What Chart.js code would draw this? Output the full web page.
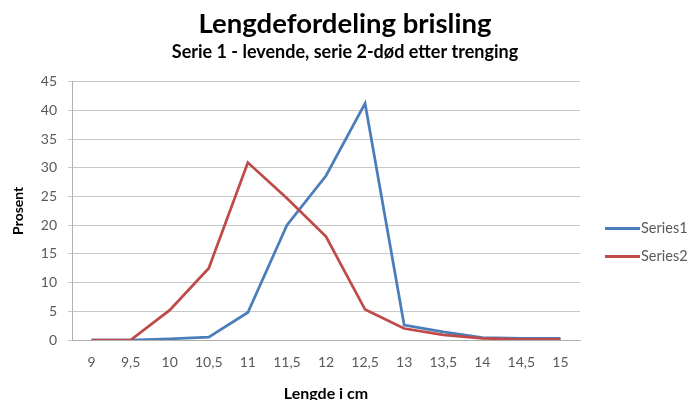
<!DOCTYPE html>
<html>
<head>
<meta charset="utf-8">
<script src="https://cdn.jsdelivr.net/npm/chart.js@4"></script>
<style>
  html, body { margin: 0; padding: 0; background: #fff; }
  #wrap { width: 690px; height: 400px; }
</style>
</head>
<body>
<div id="wrap"><canvas id="c" width="690" height="400"></canvas></div>
<script>
const categories = ['9','9,5','10','10,5','11','11,5','12','12,5','13','13,5','14','14,5','15'];
const series1 = [0, 0, 0.2, 0.5, 4.8, 20.0, 28.6, 41.2, 2.6, 1.4, 0.4, 0.3, 0.3];
const series2 = [0, 0, 5.2, 12.5, 30.9, 24.7, 18.0, 5.3, 2.0, 0.9, 0.3, 0.1, 0.1];
const seriesNames = ['Series1', 'Series2'];
const yTicks = [0, 5, 10, 15, 20, 25, 30, 35, 40, 45];

const FONT = 'Lato, "Open Sans", sans-serif';
const TEXT = '#595959';

const customLegend = {
  id: 'customLegend',
  afterDraw(chart) {
    const ctx = chart.ctx;
    const ca = chart.chartArea;
    ctx.save();
    chart.data.datasets.forEach((ds, i) => {
      const y = ca.top + 147 + i * 28;
      const x0 = ca.right + 25;
      ctx.strokeStyle = ds.borderColor;
      ctx.lineWidth = 3;
      ctx.beginPath();
      ctx.moveTo(x0, y);
      ctx.lineTo(x0 + 35, y);
      ctx.stroke();
      ctx.fillStyle = TEXT;
      ctx.font = '14.5px ' + FONT;
      ctx.textBaseline = 'middle';
      ctx.textAlign = 'left';
      ctx.fillText(ds.label, x0 + 36, y);
    });
    ctx.restore();
  }
};

new Chart(document.getElementById('c'), {
  type: 'line',
  data: {
    labels: categories,
    datasets: [
      { label: seriesNames[0], data: series1, borderColor: '#4a7ebb', backgroundColor: '#4a7ebb',
        borderWidth: 2.75, pointRadius: 0, tension: 0, order: 1 },
      { label: seriesNames[1], data: series2, borderColor: '#be4b48', backgroundColor: '#be4b48',
        borderWidth: 2.75, pointRadius: 0, tension: 0, order: 0 }
    ]
  },
  options: {
    responsive: false,
    animation: false,
    layout: { padding: { left: 0, right: 0, top: 0, bottom: 0 } },
    plugins: {
      legend: { display: false },
      tooltip: { enabled: false },
      title: {
        display: true,
        text: 'Lengdefordeling brisling',
        color: '#000',
        font: { family: FONT, size: 27.5, weight: 'bold' },
        padding: { top: 8, bottom: 0 }
      },
      subtitle: {
        display: true,
        text: 'Serie 1 - levende, serie 2-død etter trenging',
        color: '#000',
        font: { family: FONT, size: 18, weight: 'bold' },
        padding: { top: 0, bottom: 19 }
      }
    },
    scales: {
      x: {
        offset: true,
        afterFit(scale) { scale.height = 60; },
        grid: { display: false, drawTicks: false },
        border: { display: true, color: '#b0b0b0', width: 1 },
        ticks: { color: TEXT, font: { family: FONT, size: 14 }, padding: 14, maxRotation: 0, autoSkip: false },
        title: { display: true, text: 'Lengde i cm', color: '#000', font: { family: FONT, size: 16, weight: 'bold' },
                 padding: { top: 9, bottom: -3 } }
      },
      y: {
        min: 0, max: 45,
        afterBuildTicks(scale) { scale.ticks = yTicks.map(v => ({ value: v })); },
        afterFit(scale) { scale.width = 72; },
        grid: { color: '#c8c8c8', lineWidth: 1, drawTicks: true, tickLength: 4, tickColor: '#c8c8c8' },
        border: { display: true, color: '#b0b0b0', width: 1 },
        ticks: { color: TEXT, font: { family: FONT, size: 14 }, padding: 11 },
        title: { display: true, text: 'Prosent', color: '#000', font: { family: FONT, size: 14, weight: 'bold' },
                 padding: { top: 10, bottom: 0 } }
      },
      yLegendSpace: {
        type: 'linear',
        position: 'right',
        display: true,
        afterFit(scale) { scale.width = 110; },
        grid: { display: false, drawTicks: false },
        border: { display: false },
        ticks: { display: false }
      }
    }
  },
  plugins: [customLegend]
});
</script>
</body>
</html>
